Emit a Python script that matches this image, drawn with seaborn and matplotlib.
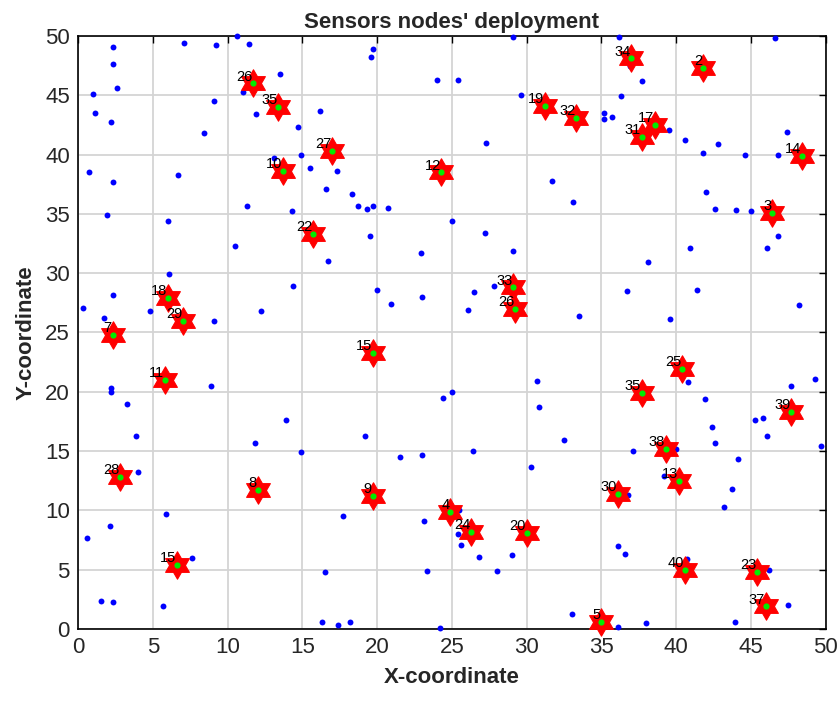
import numpy as np
import pandas as pd
import seaborn as sns
import matplotlib
matplotlib.use("Agg")
import matplotlib.pyplot as plt
from matplotlib.path import Path
from matplotlib import font_manager

# ---------------- data ----------------
cluster_labels = ["26", "35", "27", "10", "12", "22", "18", "29", "34", "2", "19", "32",
                  "17", "31", "14", "3", "33", "26", "7", "15", "11", "28", "8", "9",
                  "4", "15", "25", "35", "39", "38", "13", "30", "24", "20", "40", "23",
                  "37", "5"]
cluster_x = [11.7, 13.4, 17.0, 13.7, 24.3, 15.7, 6.0, 7.0, 37.0, 41.8, 31.2, 33.3,
             38.6, 37.7, 48.4, 46.4, 29.1, 29.2, 2.3, 19.7, 5.8, 2.8, 12.0, 19.7,
             24.9, 6.6, 40.4, 37.7, 47.7, 39.3, 40.2, 36.1, 26.3, 30.0, 40.6, 45.4,
             46.0, 35.0]
cluster_y = [46.0, 44.0, 40.3, 38.6, 38.5, 33.3, 27.9, 26.0, 48.1, 47.3, 44.1, 43.1,
             42.5, 41.5, 39.9, 35.1, 28.8, 27.0, 24.8, 23.3, 21.0, 12.8, 11.7, 11.2,
             9.9, 5.4, 21.9, 19.9, 18.3, 15.2, 12.5, 11.4, 8.2, 8.1, 5.0, 4.8,
             1.9, 0.6]

node_x = [2.3, 7.1, 9.2, 10.6, 11.4, 19.7, 19.6, 2.3, 2.6, 1.0, 13.5, 24.0, 1.1, 2.2,
          9.1, 11.0, 11.9, 16.2, 14.7, 8.4, 14.9, 13.1, 15.5, 17.3, 0.7, 2.3, 6.7, 16.6,
          18.3, 18.7, 19.3, 19.7, 20.7, 11.3, 14.3, 1.9, 6.0, 25.0, 10.5, 19.5, 16.7,
          22.9, 6.1, 2.3, 14.4, 20.0, 20.9, 23.0, 0.3, 4.8, 1.7, 7.2, 9.1, 12.2,
          29.1, 36.2, 46.6, 25.4, 36.9, 37.7, 29.6, 36.3, 35.2, 35.7, 35.2, 39.5, 27.3,
          40.6, 42.8, 41.8, 44.6, 46.8, 47.4, 31.7, 33.1, 42.0, 42.6, 44.0, 45.0, 27.2,
          29.1, 38.1, 40.9, 46.8, 46.1, 26.5, 27.8, 26.1, 36.7, 41.4, 33.5, 39.6, 48.2,
          2.2, 2.2, 3.3, 8.9, 3.9, 4.0, 11.8, 13.9, 14.9, 19.2, 21.5, 23.0, 24.4, 25.0,
          5.9, 2.1, 0.6, 17.7, 23.1, 7.6, 16.5, 23.3, 1.5, 2.3, 5.7, 16.3, 17.4, 18.2,
          24.2,
          30.7, 30.8, 40.8, 41.9, 47.7, 49.3, 45.3, 45.8, 46.1, 42.4, 42.6, 49.7, 32.5,
          37.1, 40.0, 44.1, 26.4, 30.3, 39.2, 43.7, 43.2, 36.8, 25.5, 25.4, 25.6, 26.8,
          29.0, 28.0, 36.1, 36.6, 40.7, 46.2, 47.5, 33.0, 38.0, 43.9, 36.1]
node_y = [49.1, 49.4, 49.2, 50.0, 49.3, 48.9, 48.2, 47.6, 45.6, 45.1, 46.8, 46.3, 43.5, 42.7,
          44.5, 45.3, 43.4, 43.7, 42.3, 41.8, 40.0, 39.7, 38.9, 38.6, 38.5, 37.7, 38.3, 37.1,
          36.7, 35.7, 35.4, 35.7, 35.5, 35.7, 35.2, 34.9, 34.4, 34.4, 32.3, 33.1, 31.0,
          31.7, 29.9, 28.2, 28.9, 28.6, 27.4, 28.0, 27.1, 26.8, 26.2, 26.4, 26.0, 26.8,
          49.9, 49.9, 49.8, 46.3, 47.5, 46.2, 45.0, 44.9, 43.5, 43.2, 43.0, 42.1, 41.0,
          41.2, 40.9, 40.1, 40.0, 40.0, 41.9, 37.8, 36.0, 36.8, 35.4, 35.3, 35.2, 33.4,
          31.9, 30.9, 32.1, 33.1, 32.1, 28.4, 28.9, 26.9, 28.5, 28.6, 26.4, 26.1, 27.3,
          20.3, 20.0, 19.0, 20.5, 16.3, 13.2, 15.7, 17.6, 14.9, 16.3, 14.5, 14.7, 19.5, 20.0,
          9.7, 8.7, 7.7, 9.5, 9.1, 6.0, 4.8, 4.9, 2.4, 2.3, 1.9, 0.6, 0.3, 0.6,
          0.1,
          20.9, 18.7, 20.8, 19.4, 20.5, 21.1, 17.6, 17.8, 16.3, 17.0, 15.7, 15.4, 15.9,
          15.0, 15.2, 14.3, 15.0, 13.7, 12.9, 11.8, 10.3, 11.3, 10.0, 8.0, 7.1, 6.1,
          6.2, 4.9, 7.0, 6.3, 5.9, 5.0, 2.0, 1.3, 0.5, 0.6, 0.2]

x_ticks = [0, 5, 10, 15, 20, 25, 30, 35, 40, 45, 50]
y_ticks = [0, 5, 10, 15, 20, 25, 30, 35, 40, 45, 50]

title_text = "Sensors nodes' deployment"
x_label = "X-coordinate"
y_label = "Y-coordinate"

# ---------------- style ----------------
sns.set_style("white")
plt.rcParams['font.family'] = ['Liberation Sans', 'DejaVu Sans']

nodes = pd.DataFrame({"x": node_x, "y": node_y})
heads = pd.DataFrame({"x": cluster_x, "y": cluster_y, "label": cluster_labels})

fig = plt.figure(figsize=(8.4, 7.04), dpi=100)
ax = fig.add_axes([0.093, 0.1065, 0.890, 0.8425])

ax.grid(True, color="#d4d4d4", linewidth=1.3, linestyle="-")
ax.set_axisbelow(True)

sns.scatterplot(data=nodes, x="x", y="y", ax=ax, color="#0000ff", s=18,
                linewidth=0, marker="o", zorder=3, clip_on=False)

star = Path.unit_regular_star(6, 0.577)
sns.scatterplot(data=heads, x="x", y="y", ax=ax, color="#ff0000", s=390,
                marker=star, edgecolor="#ff0000", linewidth=0.8, zorder=4, clip_on=False)
sns.scatterplot(data=heads, x="x", y="y", ax=ax, color="#00ee00", s=20,
                linewidth=0, marker="o", zorder=5, clip_on=False)

for _, r in heads.iterrows():
    ax.annotate(r["label"], (r["x"], r["y"]), xytext=(-0.5, 2), textcoords="offset points",
                ha="right", va="baseline", fontsize=10.5, color="black", zorder=6)

ax.set_xlim(0, 50)
ax.set_ylim(0, 50)
ax.set_xticks(x_ticks)
ax.set_yticks(y_ticks)
ax.set_xticklabels([str(t) for t in x_ticks])
ax.set_yticklabels([str(t) for t in y_ticks])
ax.tick_params(axis="both", which="both", direction="in", length=5, width=1,
               top=True, right=True, labelsize=16, pad=6, color="black")

for sp in ax.spines.values():
    sp.set_color("black")
    sp.set_linewidth(1.2)
    sp.set_visible(True)

ax.set_xlabel(x_label, fontsize=16, fontweight="bold", labelpad=6)
ax.set_ylabel(y_label, fontsize=16, fontweight="bold", labelpad=6)
ax.set_title(title_text, fontsize=16, fontweight="bold", pad=6)

fig.savefig("out.png", dpi=100)
